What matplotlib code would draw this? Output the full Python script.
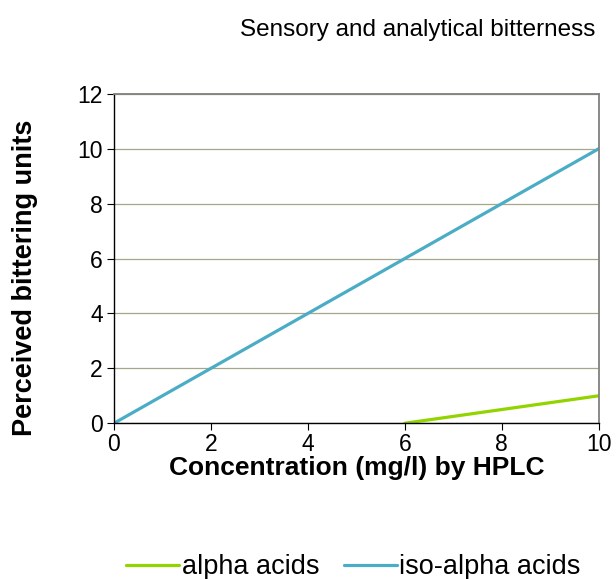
import matplotlib.pyplot as plt

plt.rcParams['font.family'] = ['Liberation Sans', 'DejaVu Sans']

# Datos
alpha_x = [6, 10]
alpha_y = [0, 1]
iso_x = [0, 10]
iso_y = [0, 10]
xticks = [0, 2, 4, 6, 8, 10]
yticks = [0, 2, 4, 6, 8, 10, 12]

fig = plt.figure(figsize=(6.16, 5.79), dpi=100)
ax = fig.add_axes([0.185, 0.269, 0.787, 0.569])

ax.plot(alpha_x, alpha_y, color='#92d400', lw=2.3, label='alpha acids', solid_capstyle='round')
ax.plot(iso_x, iso_y, color='#4bacc6', lw=2.3, label='iso-alpha acids', solid_capstyle='round')

ax.set_xlim(0, 10)
ax.set_ylim(0, 12)
ax.set_xticks(xticks)
ax.set_yticks(yticks)
ax.tick_params(labelsize=16.5, direction='out', length=5, color='black')
ax.tick_params(axis='x', pad=2)
ax.tick_params(axis='y', pad=3)
ax.yaxis.grid(True, color='#a6a68a', lw=0.9)
ax.set_axisbelow(True)

for s in ['top', 'right']:
    ax.spines[s].set_color('#808080')
    ax.spines[s].set_linewidth(1.3)
for s in ['left', 'bottom']:
    ax.spines[s].set_color('black')
    ax.spines[s].set_linewidth(1.0)

ax.set_xlabel('Concentration (mg/l) by HPLC', fontsize=19, fontweight='bold', va='center')
ax.set_ylabel('Perceived bittering units', fontsize=19.5, fontweight='bold', va='center')
ax.xaxis.set_label_coords(0.5, -0.137)
ax.yaxis.set_label_coords(-0.183, 0.44)
fig.text(0.678, 0.948, 'Sensory and analytical bitterness', fontsize=17.5, ha='center', va='center')

fig.legend(loc='center', bbox_to_anchor=(0.574, 0.02), ncol=2, frameon=False, fontsize=19.5,
           handlelength=1.95, handletextpad=0.1, columnspacing=0.9)

fig.savefig('out.png', dpi=100)
